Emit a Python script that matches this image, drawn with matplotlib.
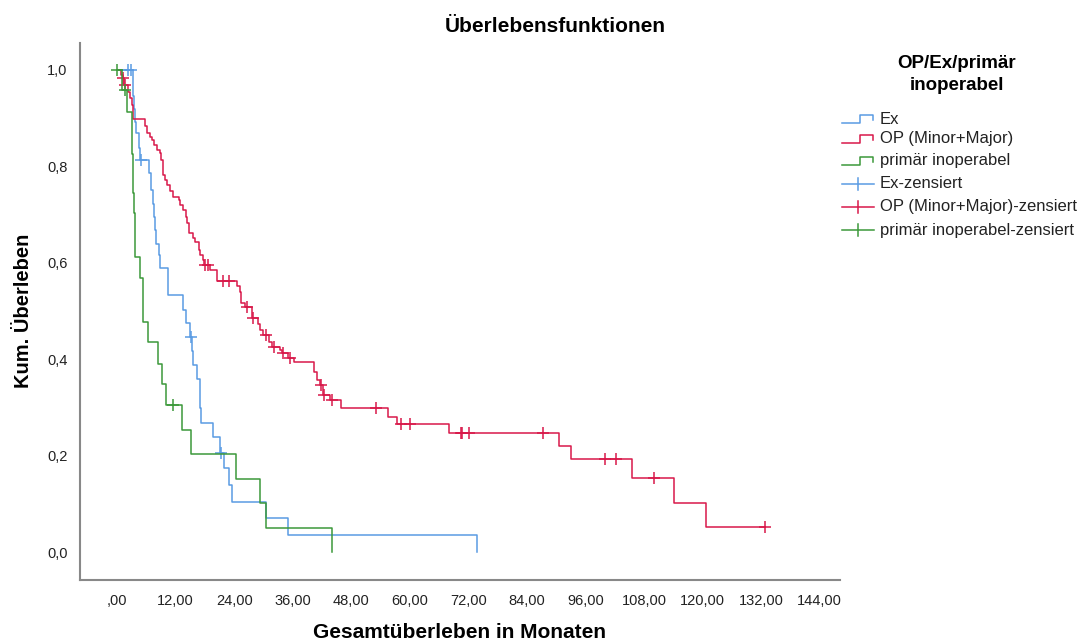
import numpy as np
import matplotlib
matplotlib.use("Agg")
import matplotlib.pyplot as plt
from matplotlib.lines import Line2D

plt.rcParams['font.family'] = ['Liberation Sans', 'DejaVu Sans']

# ---- data (months, cumulative survival) ----
ex_times = [0, 3.2, 3.3, 3.4, 3.6, 3.8, 4.4, 4.7, 6.6, 6.9, 7.3, 7.6, 7.8, 8.0, 8.5, 8.9,
            10.5, 13.6, 14.1, 15.0, 15.3, 15.6, 16.3, 17.0, 17.1, 17.2, 19.7, 21.2,
            21.9, 23.0, 23.5, 30.6, 35.0, 73.7]
ex_surv = [1.0, 0.973, 0.946, 0.919, 0.892, 0.869, 0.838, 0.813, 0.786, 0.751, 0.723, 0.696,
           0.668, 0.640, 0.616, 0.589, 0.533, 0.502, 0.476, 0.447, 0.418, 0.388, 0.358,
           0.329, 0.299, 0.268, 0.239, 0.206, 0.174, 0.139, 0.104, 0.070, 0.035, 0.0]
ex_censored = [2.3, 2.8, 4.9, 15.1, 21.4]

op_times = [0, 0.8, 1.2, 1.5, 2.3, 2.7, 3.0, 3.2, 5.7, 6.1, 6.8, 7.1, 7.6, 8.1, 8.7, 9.0,
            9.4, 9.8, 10.3, 10.8, 11.4, 12.6, 13.0, 13.6, 14.1, 14.4, 14.8, 15.6, 16.0,
            16.7, 17.0, 17.6, 17.8, 19.1, 20.4, 24.5, 25.1, 25.4, 26.2, 27.6, 28.8, 29.3,
            30.0, 31.2, 31.8, 33.4, 33.8, 35.0, 36.3, 40.4, 41.0, 41.5, 42.2, 43.6, 46.0,
            55.6, 57.3, 68.1, 90.6, 93.0, 105.5, 114.2, 120.7, 132.8]
op_surv = [1.0, 0.99, 0.983, 0.969, 0.955, 0.941, 0.927, 0.898, 0.883, 0.869, 0.862, 0.855,
           0.844, 0.834, 0.827, 0.813, 0.782, 0.772, 0.761, 0.749, 0.737, 0.730, 0.720,
           0.710, 0.696, 0.682, 0.661, 0.651, 0.644, 0.627, 0.616, 0.606, 0.595, 0.585,
           0.563, 0.552, 0.540, 0.516, 0.508, 0.485, 0.474, 0.461, 0.450, 0.436, 0.425,
           0.419, 0.412, 0.402, 0.395, 0.373, 0.357, 0.346, 0.326, 0.315, 0.298, 0.281,
           0.266, 0.247, 0.219, 0.192, 0.153, 0.101, 0.051, 0.051]
op_censored = [1.3, 1.6, 18.0, 18.7, 21.7, 23.0, 26.6, 27.9, 30.5, 32.2, 34.1, 35.5, 41.9,
               42.4, 44.0, 53.1, 58.3, 60.0, 70.5, 70.7, 72.1, 87.4, 100.0, 102.3, 110.1,
               132.8]

inop_times = [0, 1.0, 2.0, 3.0, 3.1, 3.2, 3.3, 3.4, 3.6, 3.7, 4.6, 5.3, 5.4, 6.4, 8.3, 9.2,
              10.0, 13.3, 15.2, 24.3, 29.3, 30.5, 44.1]
inop_surv = [1.0, 0.958, 0.913, 0.869, 0.826, 0.786, 0.745, 0.703, 0.658, 0.613, 0.568,
             0.523, 0.478, 0.436, 0.391, 0.349, 0.304, 0.253, 0.203, 0.151, 0.101, 0.049,
             0.0]
inop_censored = [0.0, 1.6, 11.5]

x_ticks = [0, 12, 24, 36, 48, 60, 72, 84, 96, 108, 120, 132, 144]
y_ticks = [0.0, 0.2, 0.4, 0.6, 0.8, 1.0]

groups = ["Ex", "OP (Minor+Major)", "primär inoperabel"]
colors = ["#5a9be3", "#d8194a", "#3c993a"]


def surv_at(times, surv, t):
    idx = np.searchsorted(times, t, side='right') - 1
    return np.array(surv)[idx]


W, H = 1086, 644
fig = plt.figure(figsize=(W / 100, H / 100), dpi=100)
ax = fig.add_axes([80 / W, 1 - 580 / H, 760 / W, 537 / H])

series = [(ex_times, ex_surv, ex_censored),
          (op_times, op_surv, op_censored),
          (inop_times, inop_surv, inop_censored)]

for (t, s, c), col in zip(series, colors):
    ax.step(t, s, where='post', color=col, lw=1.1)
    ax.plot(c, surv_at(t, s, c), ls='none', marker='+', ms=9, mew=1.1, color=col)

ax.set_xlim(-7.6, 148.2)
ax.set_ylim(-0.058, 1.056)
ax.set_xticks(x_ticks)
ax.set_xticklabels([(f"{v},00" if v else ",00") for v in x_ticks])
ax.set_yticks(y_ticks)
ax.set_yticklabels([f"{v:.1f}".replace(".", ",") for v in y_ticks])
ax.tick_params(length=0, labelsize=10.5, colors='#222222')
ax.tick_params(axis='x', pad=10)
ax.tick_params(axis='y', pad=9)
for side in ['top', 'right']:
    ax.spines[side].set_visible(False)
for side in ['left', 'bottom']:
    ax.spines[side].set_color('#888888')
    ax.spines[side].set_linewidth(1.5)

fig.text(555 / W, 1 - 26 / H, "Überlebensfunktionen", ha='center', va='center',
         fontsize=15, fontweight='bold')
fig.text(24 / W, 1 - 311 / H, "Kum. Überleben", ha='center', va='center', rotation=90,
         fontsize=14.5, fontweight='bold')
fig.text(460 / W, 1 - 633 / H, "Gesamtüberleben in Monaten", ha='center', va='center',
         fontsize=15, fontweight='bold')

# legend drawn by hand (SPSS style)
def px(x):
    return x / W


def py(y):
    return 1 - y / H


fig.text(px(957), py(63), "OP/Ex/primär", ha='center', va='center', fontsize=13.5,
         fontweight='bold')
fig.text(px(957), py(85), "inoperabel", ha='center', va='center', fontsize=13.5,
         fontweight='bold')

leg_y = [119, 139, 161, 184, 207, 230]
labels = groups + [g + "-zensiert" for g in groups]
for i, (lab, y) in enumerate(zip(labels, leg_y)):
    col = colors[i % 3]
    if i < 3:
        xs = [842, 860, 860, 873, 873]
        ys = [y + 4, y + 4, y - 4, y - 4, y + 1]
        fig.add_artist(Line2D([px(v) for v in xs], [py(v) for v in ys], color=col,
                              lw=1.1, transform=fig.transFigure))
    else:
        fig.add_artist(Line2D([px(842), px(874)], [py(y), py(y)], color=col, lw=1.1,
                              transform=fig.transFigure))
        fig.add_artist(Line2D([px(858), px(858)], [py(y - 6), py(y + 6)], color=col,
                              lw=1.1, transform=fig.transFigure))
    fig.text(px(880), py(y), lab, ha='left', va='center', fontsize=12, color='#222222')

fig.savefig("out.png", dpi=100)
